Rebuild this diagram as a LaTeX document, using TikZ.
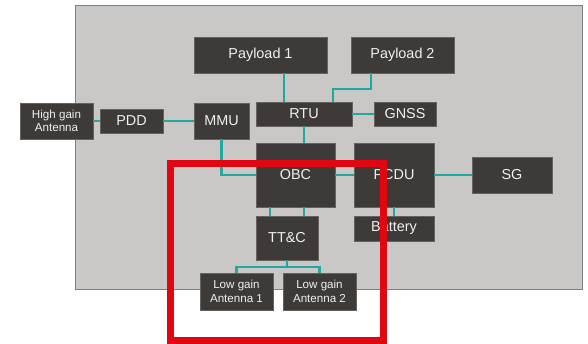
\documentclass[tikz,border=0pt]{standalone}
\usepackage{fontspec}
\setmainfont{Liberation Sans}
\definecolor{bgray}{HTML}{C9C8C7}
\definecolor{bedge}{HTML}{7F7F7F}
\definecolor{boxfill}{HTML}{3E3A38}
\definecolor{boxedge}{HTML}{66615F}
\definecolor{teal}{HTML}{1FA9A0}
\definecolor{redbox}{HTML}{E20613}
\begin{document}
\begin{tikzpicture}[x=1pt,y=-1pt,
  blk/.style={draw=boxedge,line width=0.6pt,fill=boxfill,text=white!94!black,inner sep=0pt,align=center,
    font=\fontsize{14.4}{16}\selectfont},
  sblk/.style={blk,font=\fontsize{11.6}{13.3}\selectfont},
  conn/.style={draw=teal,line width=2.3pt}]
\useasboundingbox (0,0) rectangle (588,344);
\fill[bgray,draw=bedge,line width=1pt] (75,6) rectangle (582,289);
% boxes
\node[blk,minimum width=133pt,minimum height=36pt] (P1) at (260.5,55) {Payload 1};
\node[blk,minimum width=103pt,minimum height=36pt] (P2) at (402.5,55) {Payload 2};
\node[sblk,minimum width=73pt,minimum height=36pt] (HGA) at (56.5,121) {High gain\\Antenna};
\node[blk,minimum width=63pt,minimum height=24pt] (PDD) at (131.5,121) {PDD};
\node[blk,minimum width=55pt,minimum height=36pt] (MMU) at (221.5,121) {MMU};
\node[blk,minimum width=96pt,minimum height=24pt] (RTU) at (304,114) {RTU};
\node[blk,minimum width=62pt,minimum height=24pt] (GNSS) at (405,114) {GNSS};
\node[blk,minimum width=79pt,minimum height=64pt] (OBC) at (295.5,175) {OBC};
\node[blk,minimum width=80pt,minimum height=64pt] (PCDU) at (394,175) {PCDU};
\node[blk,minimum width=80pt,minimum height=36pt] (SG) at (512,175) {SG};
\node[blk,minimum width=80pt,minimum height=25pt] (BAT) at (394,228.5) {Battery};
\node[blk,minimum width=62pt,minimum height=44pt] (TTC) at (287,238) {TT\&C};
\node[sblk,minimum width=73pt,minimum height=37pt] (LGA1) at (236.5,291.5) {Low gain\\Antenna 1};
\node[sblk,minimum width=73pt,minimum height=37pt] (LGA2) at (319.5,291.5) {Low gain\\Antenna 2};
% connectors (behind boxes)
\begin{scope}[on background layer/.try]
\end{scope}
\path[conn] (HGA.east) -- (PDD.west);
\path[conn] (PDD.east) -- (MMU.west);
\path[conn] ([xshift=23.5pt]P1.south) -- ([xshift=23.5pt]P1.south |- RTU.north);
\path[conn] ([xshift=-31.5pt]P2.south) -- ++(0,16) -| ([xshift=29pt]RTU.north);
\path[conn] (RTU.east) -- (GNSS.west);
\path[conn] (RTU.south) -- (RTU.south |- OBC.north);
\path[conn] (MMU.south) |- (OBC.west);
\path[conn] (OBC.east) -- (PCDU.west);
\path[conn] (PCDU.east) -- (SG.west);
\path[conn] (PCDU.south) -- (BAT.north);
\path[conn] ([xshift=14pt]OBC.south west) -- ([xshift=14pt]TTC.north west);
\path[conn] ([xshift=48pt]OBC.south west) -- ([xshift=48pt]TTC.north west);
\path[conn] (TTC.south) -- ++(0,7) coordinate (tj);
\path[conn] (tj) -| (LGA1.north);
\path[conn] (tj) -| (LGA2.north);
% red frame
\draw[redbox,line width=7pt] (170.5,163.5) rectangle (383.5,340.5);
\end{tikzpicture}
\end{document}
